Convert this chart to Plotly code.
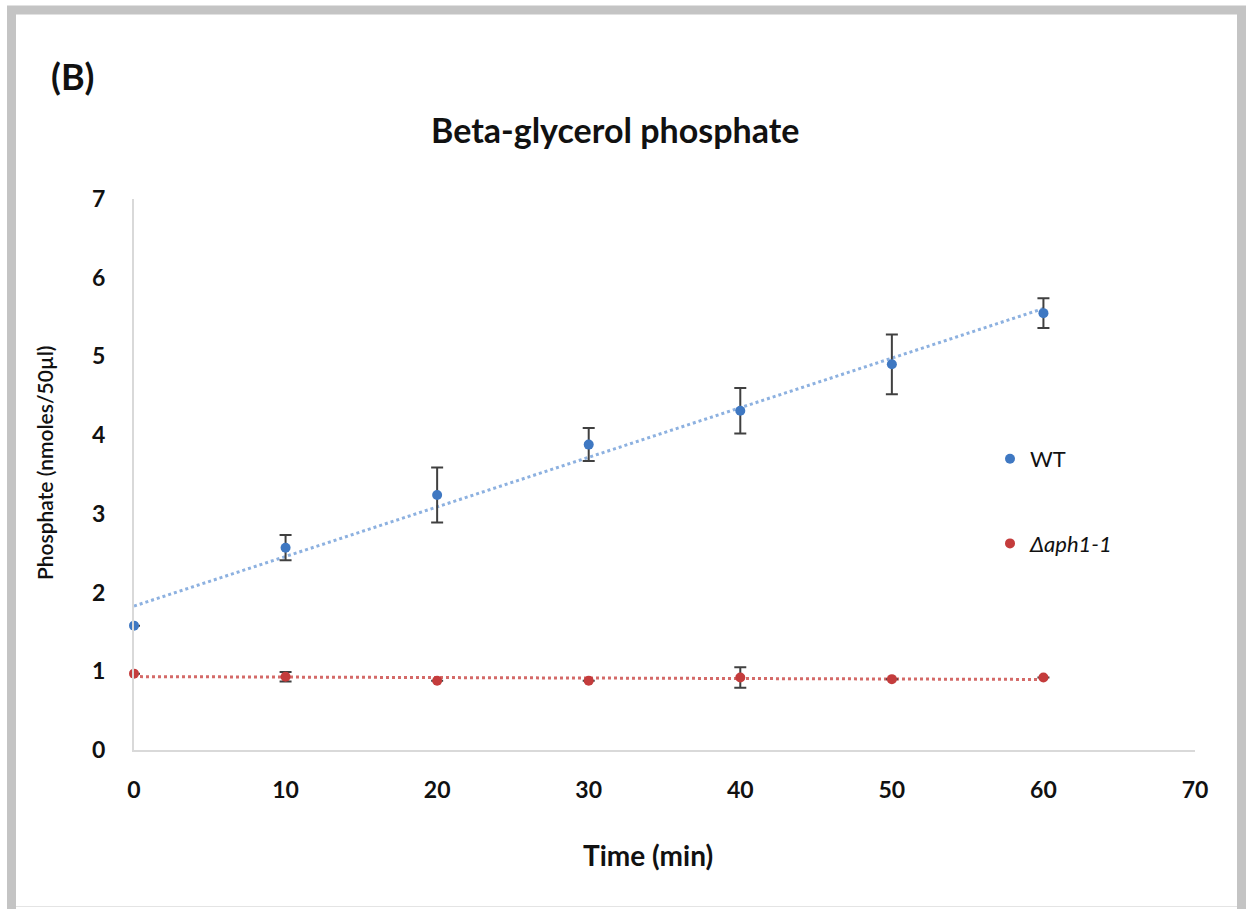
import numpy as np
import plotly.graph_objects as go

time_min = [0, 10, 20, 30, 40, 50, 60]
wt_values = [1.58, 2.57, 3.24, 3.88, 4.31, 4.90, 5.55]
wt_errors = [0.0, 0.16, 0.35, 0.21, 0.29, 0.38, 0.19]
mut_values = [0.97, 0.93, 0.88, 0.88, 0.92, 0.90, 0.92]
mut_errors = [0.0, 0.06, 0.0, 0.0, 0.13, 0.0, 0.0]
x_ticks = [0, 10, 20, 30, 40, 50, 60, 70]
y_ticks = [0, 1, 2, 3, 4, 5, 6, 7]

W, H = 1248, 909
L, R, T, B = 134, 1195, 199, 750  # plot area pixels

def px(xp):
    return (xp - L) / (R - L)

def py(yp):
    return (B - yp) / (B - T)

BLUE = "#3f78c2"
RED = "#c43c3c"
BLUE_LINE = "#8db1e0"
RED_LINE = "#d46a68"
FONT = "Lato"

fig = go.Figure()

# trendlines (linear fits of the data)
fit_x = [time_min[0], time_min[-1]]
wt_fit = np.polyfit(time_min, wt_values, 1)
mut_fit = np.polyfit(time_min, mut_values, 1)
fig.add_trace(go.Scatter(x=fit_x, y=np.polyval(wt_fit, fit_x), mode="lines",
                         line=dict(color=BLUE_LINE, width=3, dash="dot"),
                         showlegend=False, hoverinfo="skip", cliponaxis=False))
fig.add_trace(go.Scatter(x=fit_x, y=np.polyval(mut_fit, fit_x), mode="lines",
                         line=dict(color=RED_LINE, width=3, dash="dot"),
                         showlegend=False, hoverinfo="skip", cliponaxis=False))

fig.add_trace(go.Scatter(
    x=time_min, y=wt_values, mode="markers", name="WT", legendgroup="wt",
    marker=dict(color=BLUE, size=10), cliponaxis=False,
    error_y=dict(type="data", array=wt_errors, visible=True,
                 color="#404040", thickness=2, width=6)))
fig.add_trace(go.Scatter(
    x=time_min, y=mut_values, mode="markers", name="<i>Δaph1-1</i>", legendgroup="mut",
    marker=dict(color=RED, size=10), cliponaxis=False,
    error_y=dict(type="data", array=mut_errors, visible=True,
                 color="#404040", thickness=2, width=6)))

fig.update_layout(
    width=W, height=H,
    margin=dict(l=L, r=W - R, t=T, b=H - B),
    paper_bgcolor="white", plot_bgcolor="white",
    font=dict(family=FONT, color="#111111"),
    showlegend=True,
    legend=dict(x=px(990), y=py(438), xanchor="left", yanchor="top",
                font=dict(family=FONT, size=22, color="#111111"),
                tracegroupgap=53, bgcolor="rgba(0,0,0,0)"),
    xaxis=dict(range=[0, 70], tickvals=x_ticks, showgrid=False, zeroline=False,
               showline=True, linecolor="#d9d9d9", linewidth=2, ticks="",
               tickfont=dict(family=FONT, size=23, color="#111111", weight="bold"),
               ticklabelstandoff=18),
    yaxis=dict(range=[0, 7], tickvals=y_ticks, showgrid=False, zeroline=False,
               showline=True, linecolor="#d9d9d9", linewidth=2, ticks="",
               tickfont=dict(family=FONT, size=23, color="#111111", weight="bold"),
               ticklabelstandoff=22),
)

# titles
def note(text, x, y, size, angle=0, weight="normal"):
    fig.add_annotation(text=text, x=px(x), y=py(y), xref="paper", yref="paper",
                       xanchor="center", yanchor="middle", showarrow=False,
                       textangle=angle,
                       font=dict(family=FONT, size=size, color="#111111", weight=weight))

note("<b>Beta-glycerol phosphate</b>", 615, 130, 34)
note("<b>(B)</b>", 72, 76, 36)
note("<b>Time (min)</b>", 648, 855, 28)
note("Phosphate (nmoles/50µl)", 45, 463, 21, angle=-90, weight=600)

# outer frame
fig.add_shape(type="rect", xref="paper", yref="paper",
              x0=px(11.5), x1=px(1241.5), y0=py(915), y1=py(10),
              line=dict(color="#c4c4c4", width=9), layer="below")
fig.add_shape(type="line", xref="paper", yref="paper",
              x0=px(16), x1=px(1237), y0=py(906.5), y1=py(906.5),
              line=dict(color="#e4e4e4", width=1), layer="below")

fig.write_html("out.html")
